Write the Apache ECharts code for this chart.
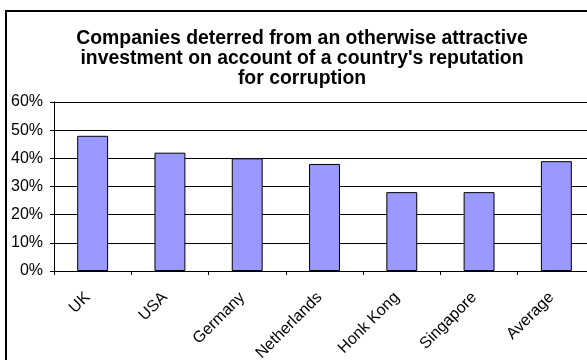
<!DOCTYPE html>
<html>
<head>
<meta charset="utf-8">
<script src="https://cdn.jsdelivr.net/npm/echarts@6/dist/echarts.min.js"></script>
<style>
  html, body { margin: 0; padding: 0; background: #fff; }
  #chart { width: 587px; height: 360px; }
</style>
</head>
<body>
<div id="chart"></div>
<script>
// Share of companies deterred, by home market
const categories = ['UK', 'USA', 'Germany', 'Netherlands', 'Honk Kong', 'Singapore', 'Average'];
const deterredShare = [0.48, 0.42, 0.40, 0.38, 0.28, 0.28, 0.39];
const titleLines = [
  'Companies deterred from an otherwise attractive',
  'investment on account of a country\'s reputation',
  'for corruption'
];

const chart = echarts.init(document.getElementById('chart'), null, { renderer: 'canvas' });

chart.setOption({
  animation: false,
  backgroundColor: '#ffffff',
  textStyle: { fontFamily: 'Liberation Sans, Arial, sans-serif' },
  graphic: [{
    type: 'rect',
    shape: { x: 6, y: 11, width: 640, height: 420 },
    style: { fill: 'none', stroke: '#000', lineWidth: 2 },
    z: -1
  }],
  title: {
    text: titleLines.join('\n'),
    left: 297,
    top: 24,
    textAlign: 'center',
    textStyle: {
      fontFamily: 'Liberation Sans, Arial, sans-serif',
      fontSize: 19.4,
      fontWeight: 'bold',
      color: '#000',
      lineHeight: 20
    }
  },
  grid: {
    left: 54, top: 102, width: 541, height: 169,
    containLabel: false,
    outerBoundsMode: 'none'
  },
  xAxis: {
    type: 'category',
    data: categories,
    axisLine: { lineStyle: { color: '#000', width: 1 } },
    axisTick: { show: true, length: 4, inside: false, lineStyle: { color: '#000' } },
    axisLabel: {
      rotate: 45,
      margin: 19,
      padding: [0, 7, 0, 0],
      fontSize: 16,
      color: '#000',
      interval: 0,
      hideOverlap: false
    }
  },
  yAxis: {
    type: 'value',
    min: 0,
    max: 0.6,
    interval: 0.1,
    axisLine: { show: true, lineStyle: { color: '#000', width: 1 } },
    axisTick: { show: true, length: 4, lineStyle: { color: '#000' } },
    splitLine: { lineStyle: { color: '#000', width: 1 } },
    axisLabel: {
      margin: 11,
      fontSize: 16,
      color: '#000',
      formatter: v => Math.round(v * 100) + '%'
    }
  },
  series: [{
    type: 'bar',
    data: deterredShare,
    barWidth: '40%',
    itemStyle: { color: '#9999ff', borderColor: '#000', borderWidth: 1 }
  }]
});
</script>
</body>
</html>
